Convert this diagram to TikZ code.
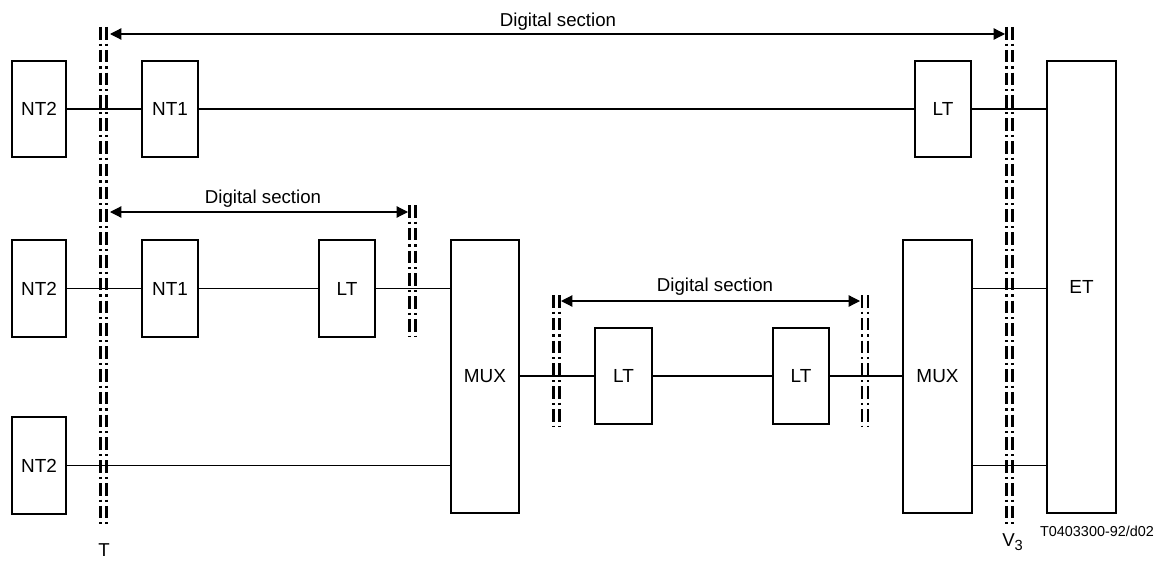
\documentclass[tikz,border=0pt]{standalone}
\usepackage{fontspec}
\setmainfont{Liberation Sans}
\usetikzlibrary{arrows.meta,calc}
\begin{document}
\begin{tikzpicture}[x=0.75pt,y=-0.75pt,
  box/.style={draw,line width=1pt,inner sep=0pt,font=\fontsize{14.2}{17}\selectfont},
  sz/.style 2 args={minimum width=#1*0.75pt,minimum height=#2*0.75pt},
  wire/.style={line width=0.9pt},
  divider/.style={line width=1.7pt,dash pattern=on 9.5pt off 3pt on 1.6pt off 3pt},
  span/.style={line width=0.9pt,{Triangle[length=8.5pt,width=8.5pt]}-{Triangle[length=8.5pt,width=8.5pt]}},
  lbl/.style={font=\fontsize{14}{17}\selectfont,inner sep=0pt}]
\useasboundingbox (0,0) rectangle (1162,560);
% boxes
\node[box,sz={54}{96}] (NT2a) at (39,109) {NT2};
\node[box,sz={56}{96}] (NT1a) at (170,109) {NT1};
\node[box,sz={56}{96}] (LTa) at (943,109) {LT};
\node[box,sz={69}{452}] (ET) at (1081.5,287) {ET};
\node[box,sz={54}{97}] (NT2b) at (39,288.5) {NT2};
\node[box,sz={56}{97}] (NT1b) at (170,288.5) {NT1};
\node[box,sz={56}{97}] (LTb) at (347,288.5) {LT};
\node[box,sz={68}{273}] (MUXa) at (485,376.5) {MUX};
\node[box,sz={69}{273}] (MUXb) at (937.5,376.5) {MUX};
\node[box,sz={57}{96}] (LTc) at (623.5,376) {LT};
\node[box,sz={56}{96}] (LTd) at (801,376) {LT};
\node[box,sz={54}{97}] (NT2c) at (39,465.5) {NT2};
% wires
\draw[wire] (NT2a.east) -- (NT1a.west);
\draw[wire] (NT1a.east) -- (LTa.west);
\draw[wire] (LTa.east) -- (LTa.east -| ET.west);
\draw[wire] (NT2b.east) -- (NT1b.west);
\draw[wire] (NT1b.east) -- (LTb.west);
\draw[wire] (LTb.east) -- (LTb.east -| MUXa.west);
\draw[wire] (MUXb.east |- LTb.east) -- (ET.west |- LTb.east);
\draw[wire] (MUXa.east |- LTc.west) -- (LTc.west);
\draw[wire] (LTc.east) -- (LTd.west);
\draw[wire] (LTd.east) -- (LTd.east -| MUXb.west);
\draw[wire] (NT2c.east) -- (NT2c.east -| MUXa.west);
\draw[wire] (MUXb.east |- NT2c.east) -- (ET.west |- NT2c.east);
% dividers
\coordinate (Ttop) at (103.5,27);
\coordinate (Vtop) at (1009.5,27);
\coordinate (Ptop) at (412.5,205);
\coordinate (Qtop) at (556.5,295);
\coordinate (Rtop) at (865,295);
\foreach \c/\b in {Ttop/524,Vtop/524,Ptop/337,Qtop/426,Rtop/426}{
  \draw[divider] ($(\c)+(-3,0)$) -- ($(\c |- 0,\b)+(-3,0)$);
  \draw[divider] ($(\c)+(3,0)$) -- ($(\c |- 0,\b)+(3,0)$);
}
% spans
\coordinate (s1l) at (110,34);
\coordinate (s1r) at (1005,34);
\coordinate (s2l) at (110,212);
\coordinate (s2r) at (408,212);
\coordinate (s3l) at (561,301);
\coordinate (s3r) at (860,301);
\draw[span] (s1l) -- (s1r);
\draw[span] (s2l) -- (s2r);
\draw[span] (s3l) -- (s3r);
\node[lbl] (d1) at (558,22) {Digital section};
\node[lbl] (d2) at (263,199) {Digital section};
\node[lbl] (d3) at (715,287) {Digital section};
\node[lbl] (T) at (104,550) {T};
\node[lbl,anchor=base west] (V) at (1002,546) {V\raisebox{-0.45ex}{\fontsize{11}{12}\selectfont 3}};
\node[font=\fontsize{10.8}{12}\selectfont,inner sep=0pt] (code) at (1097,531) {T0403300-92/d02};
\end{tikzpicture}
\end{document}
